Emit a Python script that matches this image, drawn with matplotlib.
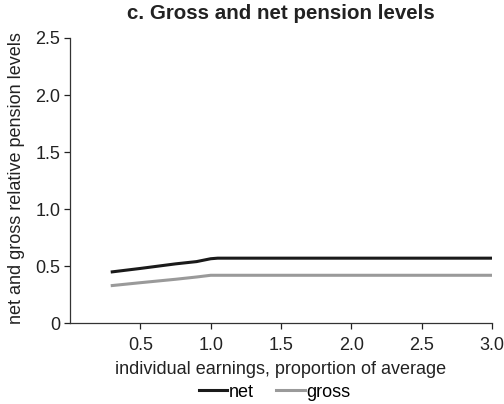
import matplotlib
matplotlib.use("Agg")
import matplotlib.pyplot as plt

plt.rcParams['font.family'] = ['Liberation Sans', 'DejaVu Sans']

# earnings as proportion of average
earn = [0.3, 0.5, 0.75, 0.9, 1.0, 1.05, 3.0]
net = [0.45, 0.48, 0.52, 0.54, 0.565, 0.57, 0.57]
gross = [0.33, 0.355, 0.385, 0.405, 0.42, 0.42, 0.42]

xticks = [0.5, 1.0, 1.5, 2.0, 2.5, 3.0]
yticks = [0, 0.5, 1.0, 1.5, 2.0, 2.5]
ylabels = ['0', '0.5', '1.0', '1.5', '2.0', '2.5']

fig = plt.figure(figsize=(5.04, 4.04), dpi=100)
ax = fig.add_axes([0.139, 0.2, 0.837, 0.706])

ax.plot(earn, net, color='#1a1a1a', lw=2.2, label='net')
ax.plot(earn, gross, color='#9a9a9a', lw=2.2, label='gross')

ax.set_xlim(0, 3.0)
ax.set_ylim(0, 2.5)
ax.set_xticks(xticks)
ax.set_xticklabels([f'{v:.1f}' for v in xticks])
ax.set_yticks(yticks)
ax.set_yticklabels(ylabels)
ax.tick_params(labelsize=13, colors='#222222', length=4, width=0.9, pad=3)
ax.tick_params(axis='x', pad=6)
ax.spines['top'].set_visible(False)
ax.spines['right'].set_visible(False)
for s in ['left', 'bottom']:
    ax.spines[s].set_color('#333333')
    ax.spines[s].set_linewidth(0.9)

ax.set_xlabel('individual earnings, proportion of average', fontsize=13, color='#222222', labelpad=5)
ax.set_ylabel('net and gross relative pension levels', fontsize=13, color='#222222')
ax.yaxis.set_label_coords(-0.106, 0.51)
ax.set_title('c. Gross and net pension levels', fontsize=14.8, fontweight='bold', color='#222222', pad=14)

ax.legend(loc='upper center', bbox_to_anchor=(0.485, -0.155), ncol=2, frameon=False,
          fontsize=13, handlelength=1.6, handletextpad=0.1, columnspacing=1.2)

fig.savefig('out.png', dpi=100)
